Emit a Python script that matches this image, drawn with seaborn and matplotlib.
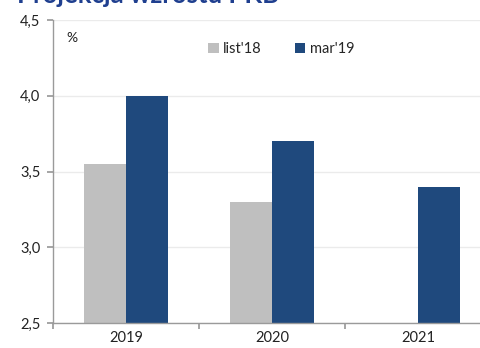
import matplotlib
matplotlib.use("Agg")
import matplotlib.pyplot as plt
import matplotlib.ticker as mticker
import numpy as np
import pandas as pd
import seaborn as sns

years = ["2019", "2020", "2021"]
series_names = ["list'18", "mar'19"]
list18 = [3.55, 3.3, np.nan]
mar19 = [4.0, 3.7, 3.4]
y_ticks = [2.5, 3.0, 3.5, 4.0, 4.5]
title = "Projekcja wzrostu PKB"

df = pd.DataFrame({
    "rok": years * 2,
    "projekcja": [series_names[0]] * 3 + [series_names[1]] * 3,
    "wartosc": list18 + mar19,
})

sns.set_theme(style="white")
plt.rcParams["font.family"] = ["Lato", "DejaVu Sans"]

fig = plt.figure(figsize=(4.8, 3.48), dpi=100)
ax = fig.add_axes([0.110, 0.0718, 0.913, 0.8707])

colors = ["#BFBFBF", "#1F497D"]
sns.barplot(data=df, x="rok", y="wartosc", hue="projekcja", palette=colors,
            width=0.575, ax=ax, saturation=1, edgecolor="none", legend=True)

ax.set_ylim(2.5, 4.5)
ax.set_xlim(-0.5, 2.5)
ax.set_yticks(y_ticks)
ax.yaxis.set_major_formatter(mticker.FuncFormatter(lambda v, p: f"{v:.1f}".replace(".", ",")))
ax.grid(axis="y", color="#EBEBEB", linewidth=1)
ax.set_axisbelow(True)

# ticks at category boundaries, labels centred under each group
ax.set_xticks([-0.5, 0.5, 1.5, 2.5])
ax.set_xticklabels([])
ax.set_xticks([0, 1, 2], minor=True)
ax.set_xticklabels(years, minor=True)
ax.tick_params(axis="x", which="major", length=4, color="#9A9A9A", direction="out", bottom=True)
ax.tick_params(axis="x", which="minor", length=0, labelsize=10.5, labelcolor="#222222", pad=6)
ax.tick_params(axis="y", length=4, color="#9A9A9A", direction="out", left=True,
               labelsize=10.5, labelcolor="#222222", pad=5)
ax.set_xlabel("")
ax.set_ylabel("")

for side in ["top", "right"]:
    ax.spines[side].set_visible(False)
for side in ["left", "bottom"]:
    ax.spines[side].set_color("#9A9A9A")
    ax.spines[side].set_linewidth(1)

handles, labels = ax.get_legend_handles_labels()
ax.legend(handles, labels, ncol=2, frameon=False, loc="upper left",
          bbox_to_anchor=(0.325, 0.97), handlelength=0.7, handleheight=0.7,
          handletextpad=0.3, columnspacing=2.3, fontsize=10.5)

ax.text(0.03, 0.96, "%", transform=ax.transAxes, fontsize=10, color="#222222",
        va="top", ha="left")

fig.text(0.035, 0.991, title, fontsize=18.5, fontweight="bold", color="#1F3F8F",
         va="baseline", ha="left")

fig.savefig("out.png", dpi=100)
